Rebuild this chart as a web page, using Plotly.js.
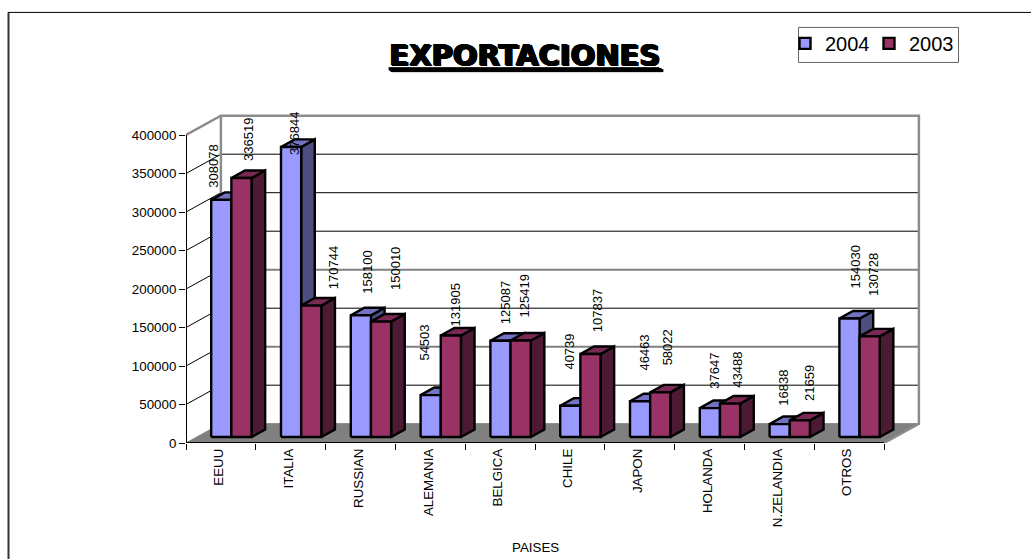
<!DOCTYPE html>
<html><head><meta charset="utf-8">
<script src="https://cdn.plot.ly/plotly-3.0.1.min.js"></script>
<style>html,body{margin:0;padding:0;background:#fff}#c{width:1031px;height:559px}</style>
</head><body><div id="c"></div>
<script>
const paises = ['EEUU','ITALIA','RUSSIAN','ALEMANIA','BELGICA','CHILE','JAPON','HOLANDA','N.ZELANDIA','OTROS'];
const valores2004 = [308078,376844,158100,54503,125087,40739,46463,37647,16838,154030];
const valores2003 = [336519,170744,150010,131905,125419,107837,58022,43488,21659,130728];
const nivelesY = [0,50000,100000,150000,200000,250000,300000,350000,400000];

// label nudges in pixels, relative to the top of each bar's front face
const nudgeX2004 = [-7.3,3.9,5.8,-5.7,5.2,-0.3,4.9,5.1,4.3,5.5];
const nudgeY2004 = [10.7,-9.5,19.8,32.5,14.8,34.1,28.7,17.4,16.4,28.5];
const nudgeX2003 = [6.8,22,13.9,4.8,4.3,7.2,7.4,6.6,9.4,4.6];
const nudgeY2003 = [14.8,14.1,30,7.2,21.5,20,24.7,13.5,17.7,38.1];

// fake-3D projection constants, in axis units
const DX = 0.5, DY = 25100;          // depth of the whole floor
const barW = 0.289, shiftX = 0.15, baseY = 7700, barDX = 0.195, barDY = 9800;
const FONT = '"Liberation Sans", Arial, sans-serif';

function join(polys){
  const x=[],y=[];
  polys.forEach(p=>{p.forEach(q=>{x.push(q[0]);y.push(q[1]);});x.push(null);y.push(null);});
  return {x,y};
}
function poly(polys,fill,line,w){
  const d=join(polys);
  return {type:'scatter',mode:'lines',x:d.x,y:d.y,fill:'toself',fillcolor:fill,
    line:{color:line,width:w},showlegend:false,hoverinfo:'skip'};
}
function lines(polys,color,w){
  const d=join(polys);
  return {type:'scatter',mode:'lines',x:d.x,y:d.y,line:{color:color,width:w},
    showlegend:false,hoverinfo:'skip'};
}
// off = 0 for the left bar of a pair, barW for the right one; pair is centred on the category + shiftX
function barFaces(vals,off,front,top,side){
  const F=[],T=[],S=[];
  vals.forEach((v,i)=>{
    const x0=i+0.5+shiftX-barW+off, x1=x0+barW, y0=baseY, y1=baseY+v;
    F.push([[x0,y0],[x1,y0],[x1,y1],[x0,y1],[x0,y0]]);
    T.push([[x0,y1],[x1,y1],[x1+barDX,y1+barDY],[x0+barDX,y1+barDY],[x0,y1]]);
    S.push([[x1,y0],[x1+barDX,y0+barDY],[x1+barDX,y1+barDY],[x1,y1],[x1,y0]]);
  });
  return [poly(S,side,'#000',2.4),poly(T,top,'#000',2.4),poly(F,front,'#000',2.4)];
}

const n = paises.length;
const traces = [];
traces.push(poly([[[0,0],[n,0],[n+DX,DY],[DX,DY],[0,0]]],'#808080','#808080',1));
const gridBlack=[],gridGrey=[],diag=[];
nivelesY.forEach((v,k)=>{
  if(k===0||k===nivelesY.length-1) return;
  (k%2===0 && k<=4 ? gridGrey : gridBlack).push([[DX,v+DY],[n+DX,v+DY]]);
  diag.push([[0,v],[DX,v+DY]]);
});
traces.push(lines(gridBlack,'#000',1));
traces.push(lines(gridGrey,'#808080',2));
traces.push(lines(diag,'#000',1));
traces.push(lines([[[0,400000],[DX,400000+DY],[n+DX,400000+DY],[n+DX,DY],[n,0]],[[DX,400000+DY],[DX,DY]]],'#8c8c8c',2.5));
// front axis lines
traces.push(lines([[[0,0],[0,400000]],[[0,0],[n,0]]],'#000',2));

traces.push(...barFaces(valores2004,0,'#9999FF','#7373C4','#4D4D80'));
traces.push(...barFaces(valores2003,barW,'#993366','#7A2952','#4D1A33'));

[['2004','#9999FF'],['2003','#993366']].forEach(([name,c])=>{
  traces.push({type:'scatter',mode:'markers',x:[null],y:[null],name:name,showlegend:true,hoverinfo:'skip',
    marker:{symbol:'square',size:11,color:c,line:{color:'#000',width:2.4}}});
});

const annotations=[];
function addLabels(vals,off,nx,ny){
  vals.forEach((v,i)=>annotations.push({
    x:i+0.5+shiftX-barW+off+barW/2, y:baseY+v, xref:'x', yref:'y', text:String(v), showarrow:false,
    textangle:-90, xanchor:'center', yanchor:'bottom', xshift:nx[i], yshift:ny[i],
    font:{family:FONT,size:13,color:'#000'}
  }));
}
addLabels(valores2004,0,nudgeX2004,nudgeY2004);
addLabels(valores2003,barW,nudgeX2003,nudgeY2003);
annotations.push({x:n/2,y:0,xref:'x',yref:'y',text:'PAISES',showarrow:false,xanchor:'center',yanchor:'middle',
  yshift:-104.5,font:{family:FONT,size:13.33,color:'#000'}});

const W=1031,H=559;
const L=186,R=925,T=110,B=442.7;       // plot rectangle in pixels
const unitX=69.8, unitY=1300;          // pixels per category, value per pixel
const px=v=>(v-L)/(R-L), py=v=>(B-v)/(B-T);

const layout={
  width:W,height:H,paper_bgcolor:'#fff',plot_bgcolor:'rgba(0,0,0,0)',
  margin:{l:L,r:W-R,t:T,b:H-B,pad:0},
  title:{text:'EXPORTACIONES',xref:'container',yref:'container',x:524/W,y:1-55/H,xanchor:'center',yanchor:'middle',
    font:{family:'"DejaVu Sans", sans-serif',size:29,weight:700,color:'#000',lineposition:'under',shadow:'1px 1px 0 #000, 2px 1px 0 #000'}},
  font:{family:FONT,size:13,color:'#000'},
  xaxis:{range:[0,(R-L)/unitX],tickmode:'array',tickvals:paises.map((_,i)=>i+0.47),ticktext:paises,tickangle:-90,
    ticks:'',showgrid:false,zeroline:false,showline:false,fixedrange:true,
    tickfont:{family:FONT,size:13.33,color:'#000'},ticklabelstandoff:2,
    minor:{tickmode:'array',tickvals:paises.map((_,i)=>i).concat([n]),ticks:'outside',ticklen:6,tickwidth:1,tickcolor:'#000',showgrid:false}},
  yaxis:{range:[0,(B-T)*unitY],tickmode:'array',tickvals:nivelesY,ticktext:nivelesY.map(String),ticks:'outside',ticklen:6,tickwidth:1,tickcolor:'#000',
    showgrid:false,zeroline:false,showline:false,fixedrange:true,
    tickfont:{family:FONT,size:13.33,color:'#000'}},
  showlegend:true,
  legend:{orientation:'h',xref:'paper',yref:'paper',x:px(785),y:py(24),xanchor:'left',yanchor:'top',
    entrywidth:39,entrywidthmode:'pixels',
    bgcolor:'rgba(0,0,0,0)',borderwidth:0,font:{family:FONT,size:20,color:'#000'},itemclick:false,itemdoubleclick:false},
  annotations:annotations,
  shapes:[
    {type:'line',xref:'paper',yref:'paper',x0:px(8.5),x1:px(8.5),y0:py(12.5),y1:py(559),line:{color:'#333',width:2}},
    {type:'line',xref:'paper',yref:'paper',x0:px(8),x1:px(1031),y0:py(12.5),y1:py(12.5),line:{color:'#000',width:1}},
    {type:'rect',xref:'paper',yref:'paper',x0:px(798.5),x1:px(958.5),y0:py(27.5),y1:py(62.5),line:{color:'#666',width:1},fillcolor:'#fff',layer:'below'}
  ]
};
Plotly.newPlot('c',traces,layout,{displayModeBar:false,staticPlot:true});
</script></body></html>
